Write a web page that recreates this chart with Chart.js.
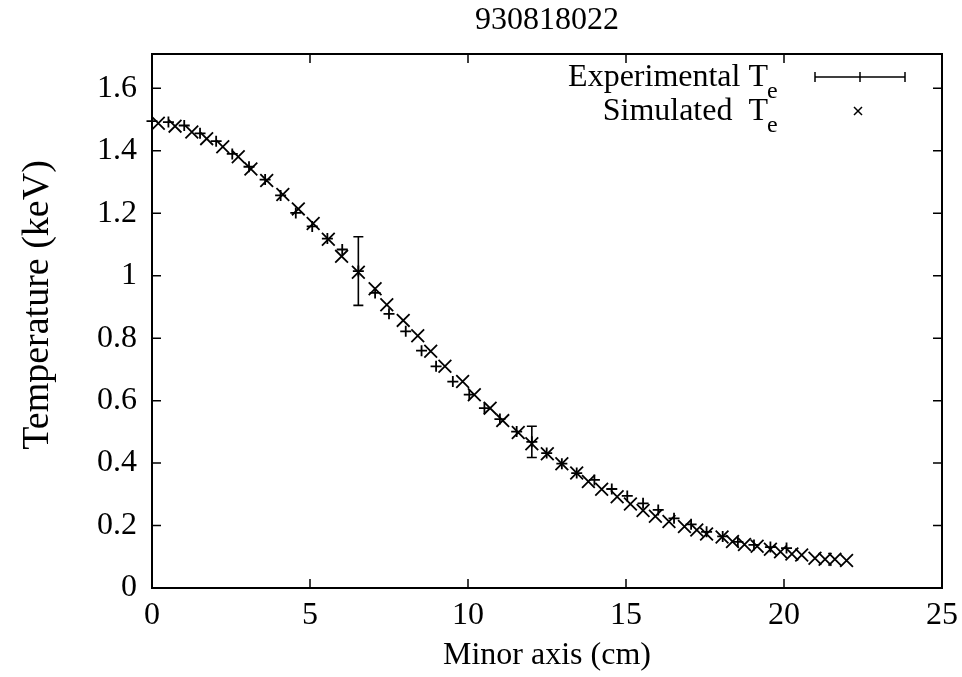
<!DOCTYPE html>
<html>
<head>
<meta charset="utf-8">
<script src="https://cdn.jsdelivr.net/npm/chart.js@4.4.1/dist/chart.umd.min.js"></script>
<style>
  body { margin: 0; background: #fff; }
  #wrap { width: 962px; height: 677px; }
</style>
</head>
<body>
<div id="wrap"><canvas id="chart" width="962" height="677"></canvas></div>
<script>
// experimental Te (+ with a few error bars)
const expX = [0.00, 0.52, 1.02, 1.52, 2.03, 2.54, 3.07, 3.58, 4.07, 4.55, 5.07, 5.55, 6.02, 6.53, 7.06, 7.50, 8.03, 8.53, 8.99, 9.52,
  10.04, 10.52, 11.01, 11.54, 12.02, 12.49, 12.97, 13.44, 14.00, 14.55, 15.04, 15.54, 16.02, 16.52, 17.06, 17.55, 18.06, 18.54, 19.05, 19.57, 20.08];
const expY = [1.495, 1.492, 1.481, 1.456, 1.431, 1.390, 1.349, 1.308, 1.257, 1.201, 1.158, 1.119, 1.084, 1.015, 0.945, 0.878, 0.822, 0.760, 0.710, 0.661,
  0.619, 0.576, 0.541, 0.501, 0.468, 0.432, 0.398, 0.368, 0.346, 0.317, 0.295, 0.271, 0.250, 0.223, 0.204, 0.180, 0.165, 0.148, 0.138, 0.131, 0.128];
const expErr = [0, 0, 0, 0, 0, 0, 0, 0, 0, 0, 0, 0, 0, 0.11, 0, 0, 0, 0, 0, 0,
  0, 0, 0, 0, 0.05, 0, 0, 0, 0, 0, 0, 0, 0, 0, 0, 0, 0, 0, 0, 0, 0];

// simulated Te (x)
const simX = [0.20, 0.73, 1.26, 1.73, 2.24, 2.73, 3.13, 3.63, 4.14, 4.63, 5.10, 5.58, 6.00, 6.53, 7.06, 7.43, 7.95, 8.41, 8.82, 9.27,
  9.83, 10.20, 10.70, 11.10, 11.59, 12.02, 12.51, 12.97, 13.44, 13.81, 14.23, 14.72, 15.14, 15.54, 15.93, 16.36, 16.85, 17.24, 17.55, 18.04,
  18.37, 18.75, 19.15, 19.57, 19.89, 20.25, 20.56, 20.98, 21.30, 21.61, 21.98];
const simY = [1.488, 1.479, 1.460, 1.439, 1.413, 1.381, 1.342, 1.305, 1.260, 1.214, 1.167, 1.117, 1.062, 1.011, 0.958, 0.907, 0.857, 0.808, 0.758, 0.710,
  0.661, 0.619, 0.576, 0.536, 0.498, 0.462, 0.430, 0.398, 0.368, 0.341, 0.316, 0.292, 0.269, 0.248, 0.230, 0.213, 0.197, 0.186, 0.173, 0.163,
  0.149, 0.139, 0.134, 0.124, 0.116, 0.109, 0.106, 0.095, 0.092, 0.092, 0.088];

const xTicks = [0, 5, 10, 15, 20, 25];
const yTicks = [0, 0.2, 0.4, 0.6, 0.8, 1, 1.2, 1.4, 1.6];

const FONT = '"Liberation Serif", "Times New Roman", serif';
Chart.defaults.font.family = FONT;
Chart.defaults.color = "#000";

const gnuplotLook = {
  id: "gnuplotLook",
  afterDatasetsDraw(chart) {
    const { ctx, scales: { x, y } } = chart;
    ctx.save();
    ctx.strokeStyle = "#000";
    ctx.lineWidth = 1.6;
    expErr.forEach((e, i) => {
      if (!e) return;
      const px = x.getPixelForValue(expX[i]);
      const top = y.getPixelForValue(expY[i] + e);
      const bot = y.getPixelForValue(expY[i] - e);
      ctx.beginPath();
      ctx.moveTo(px, top); ctx.lineTo(px, bot);
      ctx.moveTo(px - 5, top); ctx.lineTo(px + 5, top);
      ctx.moveTo(px - 5, bot); ctx.lineTo(px + 5, bot);
      ctx.stroke();
    });
    ctx.restore();
  },
  afterDraw(chart) {
    const { ctx, chartArea: a, scales: { x, y } } = chart;
    ctx.save();
    ctx.strokeStyle = "#000";
    ctx.lineWidth = 2;
    ctx.strokeRect(a.left, a.top, a.right - a.left, a.bottom - a.top);

    // inward ticks on all four sides
    ctx.lineWidth = 1.5;
    ctx.beginPath();
    xTicks.forEach(v => {
      const px = x.getPixelForValue(v);
      ctx.moveTo(px, a.bottom); ctx.lineTo(px, a.bottom - 9);
      ctx.moveTo(px, a.top); ctx.lineTo(px, a.top + 9);
    });
    yTicks.forEach(v => {
      const py = y.getPixelForValue(v);
      ctx.moveTo(a.left, py); ctx.lineTo(a.left + 9, py);
      ctx.moveTo(a.right, py); ctx.lineTo(a.right - 9, py);
    });
    ctx.stroke();

    ctx.fillStyle = "#000";
    ctx.textBaseline = "middle";

    // y axis title
    ctx.save();
    ctx.translate(38, 305);
    ctx.rotate(-Math.PI / 2);
    ctx.textAlign = "center";
    ctx.font = "38px " + FONT;
    ctx.fillText("Temperature (keV)", 0, 0);
    ctx.restore();

    // title
    ctx.font = "32px " + FONT;
    ctx.textAlign = "center";
    ctx.fillText("930818022", (a.left + a.right) / 2, 21);

    // legend
    ctx.textAlign = "right";
    ctx.fillText("Experimental T", 768, 78);
    ctx.fillText("Simulated  T", 768, 112);
    ctx.textAlign = "left";
    ctx.font = "24px " + FONT;
    ctx.fillText("e", 767, 92);
    ctx.fillText("e", 767, 126);

    ctx.lineWidth = 1.5;
    ctx.beginPath();
    ctx.moveTo(815, 77); ctx.lineTo(905, 77);
    ctx.moveTo(815, 72); ctx.lineTo(815, 82);
    ctx.moveTo(905, 72); ctx.lineTo(905, 82);
    ctx.moveTo(860, 72); ctx.lineTo(860, 82);
    ctx.moveTo(854, 107); ctx.lineTo(862, 115);
    ctx.moveTo(862, 107); ctx.lineTo(854, 115);
    ctx.stroke();
    ctx.restore();
  }
};

new Chart(document.getElementById("chart"), {
  type: "scatter",
  data: {
    datasets: [
      {
        label: "Experimental Te",
        data: expX.map((v, i) => ({ x: v, y: expY[i] })),
        pointStyle: "cross",
        pointRadius: 5.5,
        borderColor: "#000",
        borderWidth: 1.8,
        clip: false
      },
      {
        label: "Simulated Te",
        data: simX.map((v, i) => ({ x: v, y: simY[i] })),
        pointStyle: "crossRot",
        pointRadius: 9,
        borderColor: "#000",
        borderWidth: 1.8,
        clip: false
      }
    ]
  },
  options: {
    responsive: false,
    animation: false,
    events: [],
    layout: { padding: { top: 54, right: 20, left: 0, bottom: 0 } },
    plugins: {
      legend: { display: false },
      title: { display: false },
      tooltip: { enabled: false }
    },
    scales: {
      x: {
        type: "linear",
        min: 0,
        max: 25,
        afterBuildTicks: s => { s.ticks = xTicks.map(v => ({ value: v })); },
        afterFit: s => { s.height = 89; s.paddingLeft = 0; s.paddingRight = 0; },
        grid: { display: false, drawTicks: false },
        border: { display: false },
        ticks: { font: { size: 32 }, padding: 8, maxRotation: 0 },
        title: { display: true, text: "Minor axis (cm)", font: { size: 32 }, padding: { top: 0, bottom: 2 } }
      },
      y: {
        type: "linear",
        min: 0,
        max: 1.71,
        afterBuildTicks: s => { s.ticks = yTicks.map(v => ({ value: v })); },
        afterFit: s => { s.width = 152; s.paddingTop = 0; s.paddingBottom = 0; },
        grid: { display: false, drawTicks: false },
        border: { display: false },
        ticks: { font: { size: 32 }, padding: 15, callback: v => String(+v.toFixed(1)) }
      }
    }
  },
  plugins: [gnuplotLook]
});
</script>
</body>
</html>
